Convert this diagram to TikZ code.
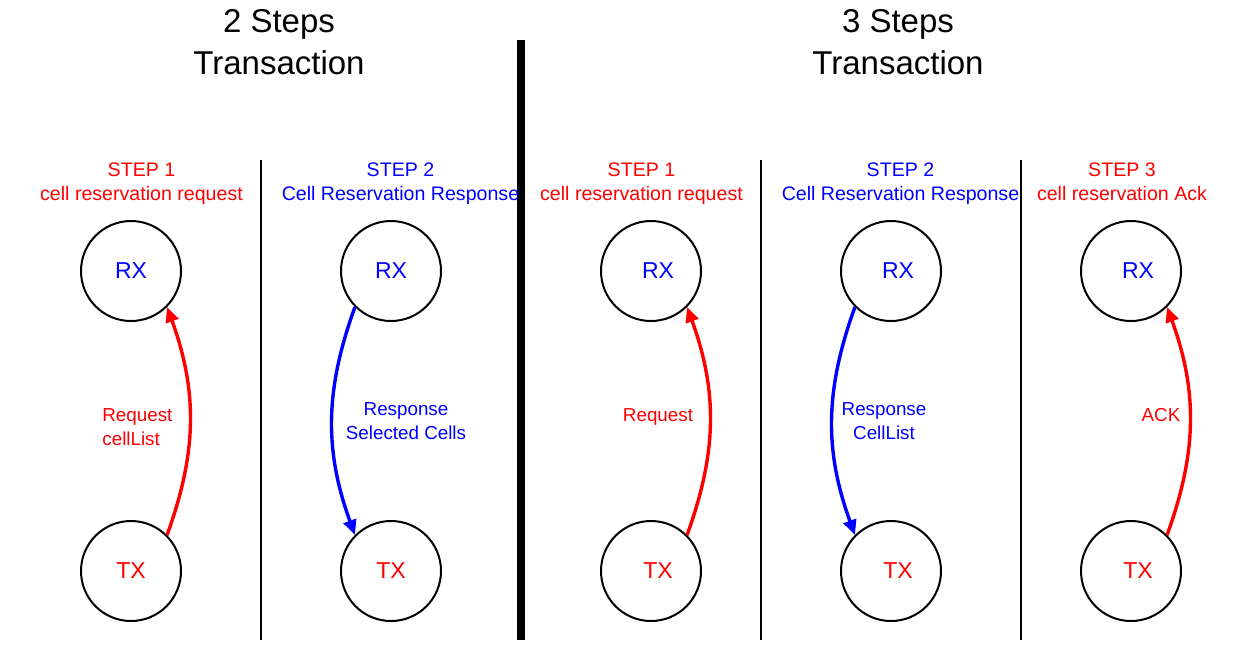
\documentclass[tikz,border=0pt]{standalone}
\usepackage{fontspec}
\setmainfont{Liberation Sans}
\usetikzlibrary{arrows.meta}
\definecolor{txRed}{HTML}{FF0000}
\definecolor{txBlue}{HTML}{0000FF}
\tikzset{
  tx node/.style={circle, draw=black, line width=1pt, minimum size=50pt, inner sep=0pt},
  tx name/.style={font=\fontsize{11.5}{14}\selectfont, inner sep=0pt},
  tx title/.style={align=center, anchor=base, inner sep=0pt, font=\fontsize{16.5}{21}\selectfont},
  tx step/.style={align=center, anchor=base, inner sep=0pt, font=\fontsize{9.8}{12}\selectfont},
  tx msg/.style={anchor=base, inner sep=0pt, font=\fontsize{9.4}{12}\selectfont},
  tx arrow/.style={line width=1.7pt, -{Triangle[length=7.5pt, width=6.5pt]}},
  tx rule/.style={draw=black, line width=1pt},
}

\begin{document}
\begin{tikzpicture}[x=0.5pt, y=-0.5pt]
  \useasboundingbox (0,0) rectangle (1242,645);
  % Titles (base = last line)
  \node[tx title] (titleA) at (279,74) {2 Steps\\Transaction};
  \node[tx title] (titleB) at (898,74) {3 Steps\\Transaction};
  % Separators
  \draw[draw=black, line width=4pt] (521,40) -- (521,640);
  \foreach \x in {261,761,1021} \draw[tx rule] (\x,160) -- (\x,640);
  % Step headers
  \node[tx step, text=txRed]  (stepA) at (141.5,200) {STEP 1\\cell reservation request};
  \node[tx step, text=txBlue] (stepB) at (400.5,200) {STEP 2\\Cell Reservation Response};
  \node[tx step, text=txRed]  (stepC) at (641.5,200) {STEP 1\\cell reservation request};
  \node[tx step, text=txBlue] (stepD) at (900.5,200) {STEP 2\\Cell Reservation Response};
  \node[tx step, text=txRed]  (stepE) at (1122,200) {STEP 3\\cell reservation Ack};
  % Receivers and transmitters
  \node[tx node, label={[tx name, text=txBlue]center:RX}] (rxA) at (131,271) {};
  \node[tx node, label={[tx name, text=txRed]center:TX}]  (txA) at (131,571) {};
  \node[tx node, label={[tx name, text=txBlue]center:RX}] (rxB) at (391,271) {};
  \node[tx node, label={[tx name, text=txRed]center:TX}]  (txB) at (391,571) {};
  \node[tx node, label={[tx name, text=txBlue, xshift=3.5pt]center:RX}] (rxC) at (651,271) {};
  \node[tx node, label={[tx name, text=txRed, xshift=3.5pt]center:TX}]  (txC) at (651,571) {};
  \node[tx node, label={[tx name, text=txBlue, xshift=3.5pt]center:RX}] (rxD) at (891,271) {};
  \node[tx node, label={[tx name, text=txRed, xshift=3.5pt]center:TX}]  (txD) at (891,571) {};
  \node[tx node, label={[tx name, text=txBlue, xshift=3.5pt]center:RX}] (rxE) at (1131,271) {};
  \node[tx node, label={[tx name, text=txRed, xshift=3.5pt]center:TX}]  (txE) at (1131,571) {};
  % Messages
  \draw[tx arrow, txRed]  (txA.45)  to[bend right=20] (rxA.-45);
  \draw[tx arrow, txBlue] (rxB.225) to[bend right=20] (txB.135);
  \draw[tx arrow, txRed]  (txC.45)  to[bend right=20] (rxC.-45);
  \draw[tx arrow, txBlue] (rxD.225) to[bend right=20] (txD.135);
  \draw[tx arrow, txRed]  (txE.45)  to[bend right=20] (rxE.-45);
  \node[tx msg, text=txRed, align=left, anchor=base west] (msgA) at (102,445) {Request\\cellList};
  \node[tx msg, text=txBlue, align=center] (msgB) at (406,439) {Response\\Selected Cells};
  \node[tx msg, text=txRed] (msgC) at (658,421) {Request};
  \node[tx msg, text=txBlue, align=center] (msgD) at (884,439) {Response\\CellList};
  \node[tx msg, text=txRed] (msgE) at (1161,421) {ACK};
\end{tikzpicture}
\end{document}
